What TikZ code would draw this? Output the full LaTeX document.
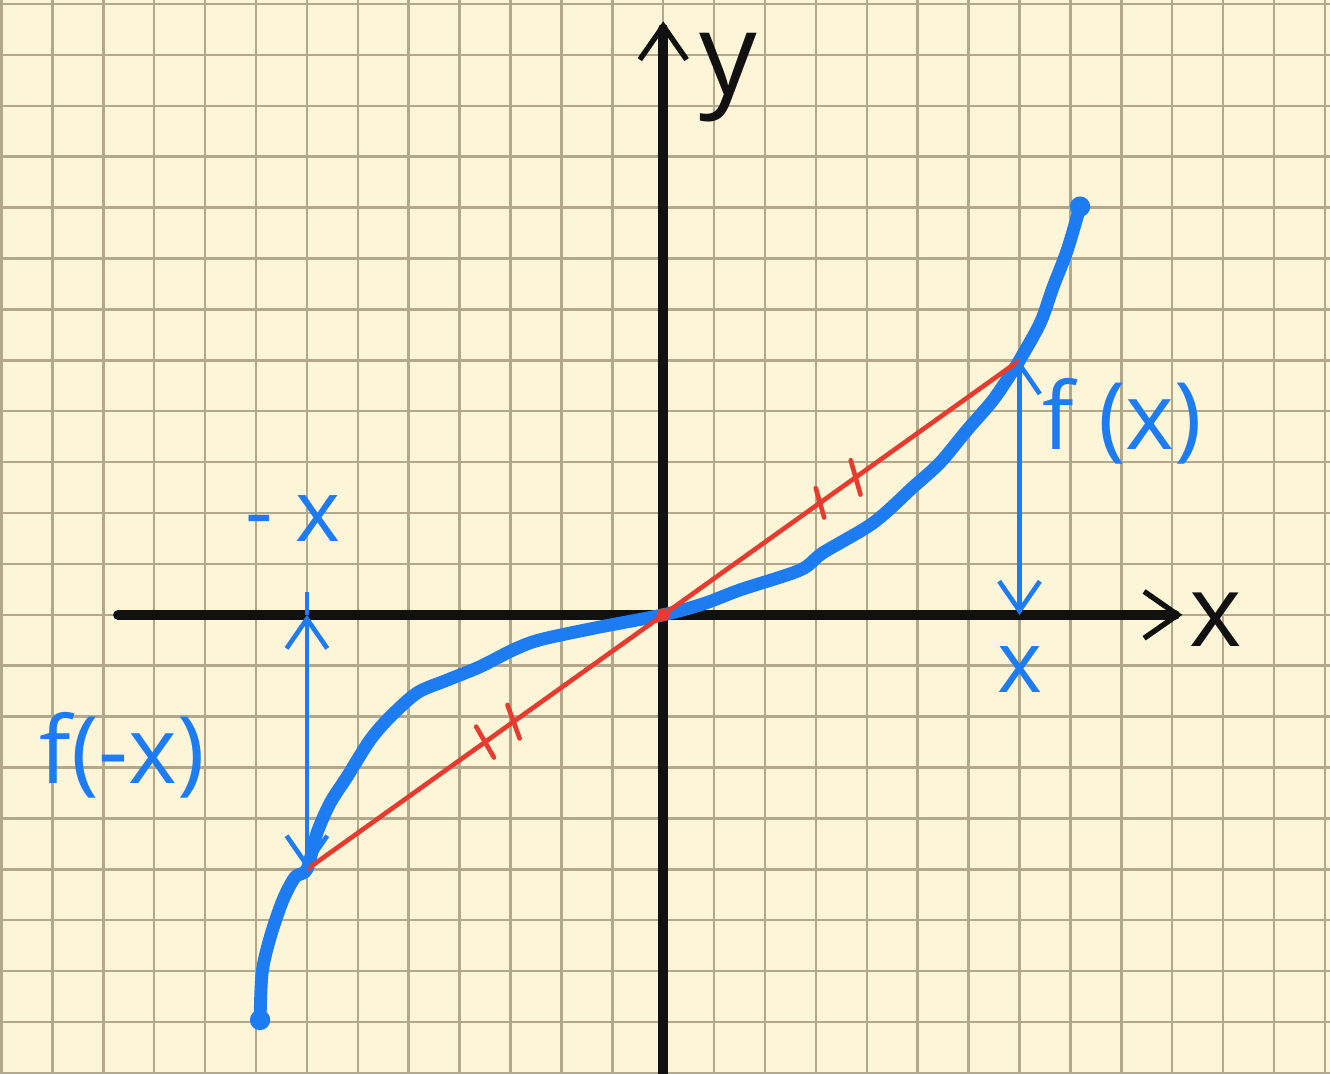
\documentclass[tikz,border=0pt]{standalone}
\usepackage{fontspec}
\setmainfont{Open Sans}
\usetikzlibrary{arrows.meta, calc, positioning}
\definecolor{paper}{HTML}{FDF5D7}
\definecolor{rule}{HTML}{B3A78C}
\definecolor{pen}{HTML}{1D7CF2}
\definecolor{chord}{HTML}{E63B2E}
\definecolor{ink}{HTML}{111111}

\begin{document}
\begin{tikzpicture}[x=0.5cm, y=0.5cm,
  axis/.style={ink, line width=2.8pt, line cap=round,
    -{Straight Barb[length=3.3mm, width=4.6mm, line width=1.5pt]}},
  curve/.style={pen, line width=3.6pt, line cap=round, line join=round},
  secant/.style={chord, line width=1.3pt},
  hatch/.style={chord, line width=1.3pt, line cap=round},
  measure/.style={pen, line width=1.3pt,
    >={Straight Barb[length=2.9mm, width=4mm]}, <->},
  ink label/.style={text=ink, inner sep=0pt},
  pen label/.style={text=pen, inner sep=0pt, font=\fontsize{26}{30}\selectfont}]

  % paper and squares
  \useasboundingbox (-13.03,-9.02) rectangle (13.10,12.08);
  \fill[paper] (-13.03,-9.02) rectangle (13.10,12.08);
  \clip (-13.03,-9.02) rectangle (13.10,12.08);
  \draw[rule, line width=0.7pt, step=0.5cm] (-14,-10) grid (14,13);

  \coordinate (O) at (0,0);
  \coordinate (P) at (7,5);
  \coordinate (Q) at (-7,-5);
  \coordinate (Px) at (7,0);
  \coordinate (Qx) at (-7,0);
  \coordinate (xl) at (-10.71,0);
  \coordinate (xr) at (10.2,0);
  \coordinate (yb) at (0,-9.3);
  \coordinate (yt) at (0,11.66);
  \coordinate (start) at (-7.92,-7.96);
  \coordinate (stop) at (8.19,8.02);

  % axes
  \draw[axis] (xl) -- (xr);
  \draw[axis] (yb) -- (yt);
  \node[ink label, font=\fontsize{32}{36}\selectfont] (ylab) at (1.28,10.55) {y};
  \node[ink label, font=\fontsize{28}{32}\selectfont] (xlab) at (10.86,-0.1) {x};

  % the curve
  \draw[curve] plot[smooth, tension=0.5] coordinates {
    (start) (-7.88,-7.03) (-7.72,-6.33) (-7.47,-5.60) (-7.23,-5.15) (Q)
    (-6.80,-4.28) (-6.54,-3.69) (-6.21,-3.18) (-5.76,-2.46) (-5.36,-2.0)
    (-4.83,-1.53) (-4.24,-1.28) (-3.60,-1.02) (-2.95,-0.69) (-2.42,-0.49)
    (-1.3,-0.25) (O) (0.8,0.22) (1.51,0.49) (2.69,0.88) (3.14,1.22)
    (4.13,1.81) (4.91,2.51) (5.44,2.99) (5.97,3.63) (6.48,4.22) (6.88,4.81)
    (P) (7.41,5.74) (7.66,6.44) (7.94,7.17) (stop)};
  \fill[pen] (start) circle (0.2);
  \fill[pen] (stop) circle (0.2);

  % secant through the origin
  \draw[secant] (Q) -- (P);
  \fill[chord] (O) circle (0.13);
  \draw[hatch] ($(O)!0.44!(P)$) ++(106:0.3) -- ++(-74:0.6);
  \draw[hatch] ($(O)!0.54!(P)$) ++(106:0.35) -- ++(-74:0.7);
  \draw[hatch] ($(O)!0.42!(Q)$) ++(110:0.35) -- ++(-70:0.7);
  \draw[hatch] ($(O)!0.50!(Q)$) ++(120:0.35) -- ++(-60:0.7);

  % heights
  \draw[measure] (P) -- (Px);
  \draw[measure] (Qx) -- (Q);
  \draw[pen, line width=1.3pt] (Qx) -- ++(0,0.45);
  \node[pen label] (fx) at (9.02,3.81) {f (x)};
  \node[pen label, font=\fontsize{24}{28}\selectfont, below=0.3cm of Px] (xval) {x};
  \node[pen label, font=\fontsize{24}{28}\selectfont] (mx) at (-7.27,1.9) {- x};
  \node[pen label] (fmx) at (-10.63,-2.75) {f(-x)};
\end{tikzpicture}
\end{document}
